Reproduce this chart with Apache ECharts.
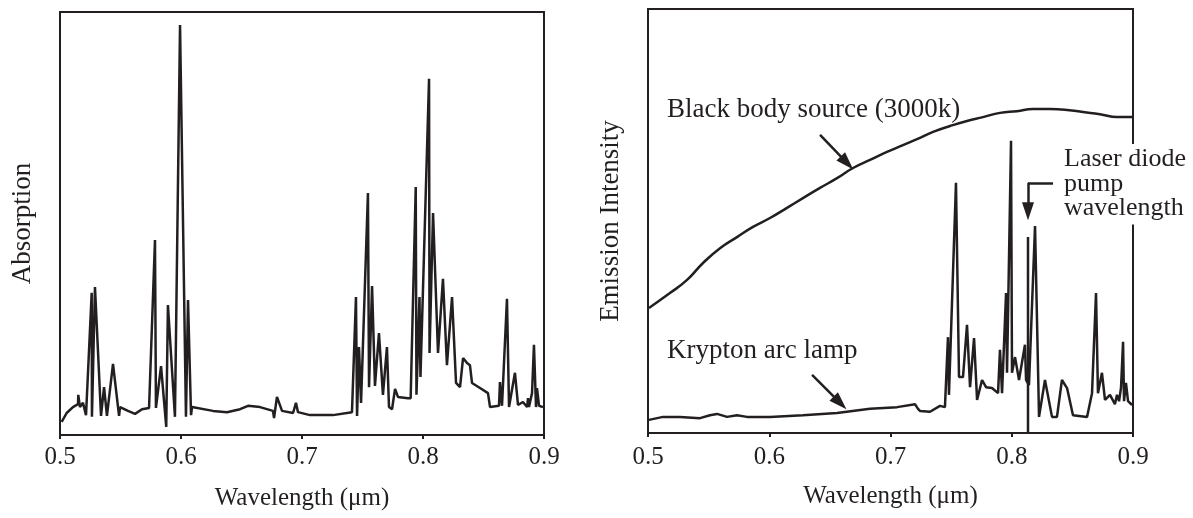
<!DOCTYPE html>
<html>
<head>
<meta charset="utf-8">
<script src="https://cdn.jsdelivr.net/npm/echarts@6/dist/echarts.min.js"></script>
<style>
html,body{margin:0;padding:0;background:#fff;}
#chart{width:1193px;height:518px;}
</style>
</head>
<body>
<div id="chart"></div>
<script>
// ---------- DATA ----------
const xTicks = [0.5, 0.6, 0.7, 0.8, 0.9];

// Left: absorption spectrum (relative units 0-100)
const absWl = [0.5014,0.5055,0.5107,0.5149,0.5151,0.5165,0.519,0.5215,0.5231,0.5262,0.5264,0.5289,0.5339,0.5364,0.5388,0.5438,0.5488,0.5496,0.5562,0.562,0.5678,0.5736,0.5785,0.5793,0.5835,0.5878,0.5892,0.595,0.5992,0.6041,0.6058,0.6083,0.6091,0.6264,0.638,0.6488,0.6554,0.6653,0.676,0.6769,0.6793,0.6835,0.6926,0.695,0.6967,0.7066,0.7124,0.7256,0.7413,0.7446,0.7455,0.7471,0.7488,0.7545,0.7554,0.7579,0.7603,0.7636,0.7669,0.7702,0.7719,0.7744,0.7769,0.7793,0.7876,0.7898,0.794,0.7946,0.7971,0.7979,0.805,0.8054,0.8083,0.8124,0.8165,0.8198,0.824,0.8273,0.8306,0.8331,0.8364,0.8388,0.8405,0.8471,0.8537,0.8554,0.8628,0.8636,0.8653,0.8694,0.8711,0.876,0.8785,0.8826,0.886,0.8868,0.8876,0.8901,0.8917,0.8934,0.8942,0.8959,0.8992];
const absVal = [3.1,5.2,6.6,7.3,9.5,6.6,7.6,4.7,4.3,33.6,4.3,35.0,4.5,11.3,4.5,16.8,4.5,6.6,5.7,5.0,6.1,6.4,46.1,6.4,16.3,1.9,30.7,4.3,96.9,4.3,31.9,4.7,6.6,5.7,5.4,6.1,6.9,6.6,5.7,4.0,9.0,5.7,5.2,7.6,5.4,4.7,4.7,4.7,5.4,32.6,4.5,20.8,7.6,57.2,11.3,35.2,11.6,24.1,9.5,20.8,6.6,6.1,10.9,9.0,8.7,8.7,58.6,9.5,32.6,13.7,84.2,19.4,52.5,19.4,36.9,16.5,32.6,12.3,11.3,18.2,17.0,16.5,12.3,11.1,9.9,6.6,6.9,12.5,6.9,32.2,6.6,14.7,7.1,7.8,6.6,8.7,6.6,9.9,21.3,6.6,11.1,6.9,6.6];

// Right: black body source (3000 K)
const bbWl = [0.5008,0.5181,0.5322,0.5454,0.5594,0.5734,0.5866,0.6006,0.6146,0.6278,0.6419,0.6559,0.6691,0.6831,0.6971,0.7103,0.7219,0.7351,0.7491,0.7631,0.7763,0.7903,0.8043,0.8175,0.8315,0.8456,0.8588,0.8728,0.8868,0.8992];
const bbVal = [29.5,33.0,36.1,40.1,43.6,46.2,48.6,50.7,53.1,55.4,57.8,60.1,62.5,64.4,66.3,67.9,69.3,71.0,72.4,73.6,74.5,75.5,75.9,76.4,76.4,76.2,75.7,75.2,74.5,74.5];

// Right: krypton arc lamp
const krWl = [0.5008,0.5124,0.5264,0.5429,0.5511,0.5569,0.5652,0.5734,0.5816,0.6006,0.6278,0.6559,0.6831,0.7054,0.7202,0.7227,0.7243,0.7326,0.7408,0.7449,0.7474,0.7482,0.754,0.7565,0.7598,0.7631,0.7656,0.7689,0.7714,0.7755,0.7788,0.7837,0.7887,0.7903,0.792,0.7953,0.7961,0.7994,0.8002,0.8027,0.806,0.8109,0.8118,0.8142,0.8192,0.8225,0.8274,0.8332,0.8373,0.8414,0.8456,0.8505,0.8621,0.8662,0.8695,0.8711,0.8744,0.8769,0.881,0.8851,0.8868,0.8885,0.8901,0.8918,0.8926,0.8942,0.8959,0.8992];
const krVal = [3.1,3.8,3.8,3.5,4.2,4.5,3.8,4.2,3.8,3.8,4.2,4.7,5.7,6.1,6.8,5.7,5.2,5.0,6.4,6.1,22.6,9.0,59.0,13.2,13.2,25.5,10.8,22.4,7.8,12.5,10.8,10.6,9.4,19.6,9.4,33.0,14.2,68.9,14.2,17.9,12.5,20.8,12.5,11.3,48.8,3.8,12.5,3.8,3.8,12.5,10.6,4.2,3.8,9.4,33.0,9.4,14.2,7.8,9.0,6.8,9.0,7.5,10.6,21.5,7.5,11.8,7.5,6.6];

// Laser diode pump wavelength marker
const laserWl = 0.8134;
const laserTop = 46.2;

// ---------- CHART ----------
const INK = '#231f20';
const FONT = 'Liberation Serif';
const zip = (a, b) => a.map((v, i) => [v, b[i]]);

function xAxisCfg(gi, margin) {
  return {
    type: 'value', gridIndex: gi, min: xTicks[0], max: xTicks[xTicks.length - 1], interval: 0.1,
    name: 'Wavelength (\u03bcm)', nameLocation: 'middle', nameGap: 51,
    nameTextStyle: {fontFamily: FONT, fontSize: 25, color: INK},
    axisLine: {show: false},
    axisTick: {show: true, length: 4, lineStyle: {color: INK, width: 2}},
    axisLabel: {fontFamily: FONT, fontSize: 25, color: INK, margin: margin,
      formatter: v => v.toFixed(1)},
    splitLine: {show: false}
  };
}
function yAxisCfg(gi, name) {
  return {
    type: 'value', gridIndex: gi, min: 0, max: 100,
    name: name, nameLocation: 'middle', nameGap: 24,
    nameTextStyle: {fontFamily: FONT, fontSize: 27, color: INK},
    axisLine: {show: false}, axisTick: {show: false}, axisLabel: {show: false},
    splitLine: {show: false}
  };
}
const lineStyle = {color: INK, width: 2.5};
const arrowLine = {color: INK, width: 2.5, type: 'solid'};
const head = {symbol: 'triangle', symbolSize: [12, 18]};

const chart = echarts.init(document.getElementById('chart'), null, {renderer: 'canvas'});
chart.setOption({
  animation: false,
  backgroundColor: '#fff',
  grid: [
    {left: 60, top: 12, width: 484, height: 423, show: true, borderColor: INK, borderWidth: 2, backgroundColor: 'transparent'},
    {left: 648, top: 9, width: 485, height: 424, show: true, borderColor: INK, borderWidth: 2, backgroundColor: 'transparent'}
  ],
  xAxis: [xAxisCfg(0, 10), xAxisCfg(1, 12)],
  yAxis: [yAxisCfg(0, 'Absorption'), yAxisCfg(1, 'Emission Intensity')],
  series: [
    {type: 'line', xAxisIndex: 0, yAxisIndex: 0, data: zip(absWl, absVal),
      showSymbol: false, lineStyle: lineStyle, silent: true},
    {type: 'line', xAxisIndex: 1, yAxisIndex: 1, data: zip(bbWl, bbVal), smooth: true,
      showSymbol: false, lineStyle: lineStyle, silent: true,
      markLine: {silent: true, symbol: 'none',
        label: {show: false}, lineStyle: arrowLine,
        data: [[{coord: [0.6419, 70.3]}, Object.assign({coord: [0.6641, 63.7]}, head)]]}},
    {type: 'line', xAxisIndex: 1, yAxisIndex: 1, data: zip(krWl, krVal),
      showSymbol: false, lineStyle: lineStyle, silent: true,
      markLine: {silent: true, symbol: 'none',
        label: {show: false}, lineStyle: arrowLine,
        data: [[{coord: [0.6353, 13.7]}, Object.assign({coord: [0.6584, 7.1]}, head)]]}},
    {type: 'line', xAxisIndex: 1, yAxisIndex: 1, data: [[laserWl, 0], [laserWl, laserTop]],
      showSymbol: false, lineStyle: lineStyle, silent: true,
      markLine: {silent: true, symbol: 'none', label: {show: false}, lineStyle: arrowLine,
        data: [
          [{coord: [0.834, 59.0]}, {coord: [laserWl, 59.0]}],
          [{coord: [laserWl, 59.0]}, Object.assign({coord: [laserWl, 52.3]}, head)]
        ]}}
  ],
  graphic: [
    {type: 'text', z: 100, left: 667, top: 96,
      style: {text: 'Black body source (3000k)', font: '27px "Liberation Serif"', fill: INK}},
    {type: 'text', z: 100, left: 667, top: 337,
      style: {text: 'Krypton arc lamp', font: '27px "Liberation Serif"', fill: INK}},
    {type: 'text', z: 100, left: 1061, top: 144,
      style: {text: 'Laser diode\npump\nwavelength', font: '26px "Liberation Serif"', fill: INK,
        lineHeight: 24.5, backgroundColor: '#fff', padding: [3, 4, 4, 3]}}
  ]
});
</script>
</body>
</html>
